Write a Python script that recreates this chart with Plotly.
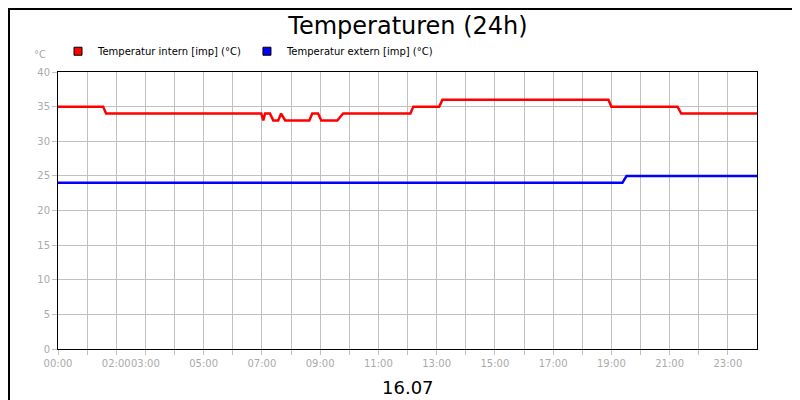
import plotly.graph_objects as go

# hours since 00:00
intern_x = [0, 1.55, 1.65, 6.98, 7.05, 7.11, 7.28, 7.39, 7.56, 7.66, 7.8, 8.63, 8.73, 8.93, 9.04, 9.59, 9.79,
            12.1, 12.2, 13.09, 13.2, 18.9, 19.0, 21.27, 21.4, 24]
intern_y = [35, 35, 34, 34, 33, 34, 34, 33, 33, 34, 33, 33, 34, 34, 33, 33, 34,
            34, 35, 35, 36, 36, 35, 35, 34, 34]
extern_x = [0, 19.38, 19.52, 24]
extern_y = [24, 24, 25, 25]

tick_hours = list(range(24))
labeled = [0, 2, 3, 5, 7, 9, 11, 13, 15, 17, 19, 21, 23]
tick_text = [f"{h:02d}:00" if h in labeled else "" for h in tick_hours]

fig = go.Figure()
fig.add_scatter(x=intern_x, y=intern_y, mode='lines', line=dict(color='#ff0000', width=2.5), showlegend=False)
fig.add_scatter(x=extern_x, y=extern_y, mode='lines', line=dict(color='#0000ff', width=2.5), showlegend=False)
for name, col in [('Temperatur intern [imp] (°C)', '#ff0000'), ('Temperatur extern [imp] (°C)', '#0000ff')]:
    fig.add_scatter(x=[None], y=[None], mode='markers', name=name,
                    marker=dict(symbol='square', size=8, color=col, line=dict(color='black', width=1)))

grey = '#aaaaaa'
fig.update_layout(
    width=800, height=400,
    margin=dict(l=50, r=51, t=64, b=59, autoexpand=False),
    paper_bgcolor='white', plot_bgcolor='white',
    font=dict(family='DejaVu Sans', size=10, color=grey),
    title=dict(text='Temperaturen (24h)', x=0.5, xanchor='center', y=0.955, yanchor='middle',
               font=dict(size=24, color='black')),
    legend=dict(orientation='h', x=0.0, xanchor='left', y=1.075, yanchor='middle',
                font=dict(size=10, color='black'), tracegroupgap=0, itemwidth=30,
                bgcolor='rgba(0,0,0,0)'),
    xaxis=dict(range=[0, 24], tickvals=tick_hours, ticktext=tick_text, tickangle=0, automargin=False,
               showgrid=True, gridcolor='#c0c0c0', ticks='outside', ticklen=5, tickcolor='#c0c0c0',
               showline=True, linecolor='black', mirror=True, zeroline=False),
    yaxis=dict(range=[0, 40], dtick=5, automargin=False, showgrid=True, gridcolor='#c0c0c0',
               ticks='outside', ticklen=5, tickcolor='#c0c0c0', showline=True, linecolor='black',
               mirror=True, zeroline=False),
    shapes=[dict(type='rect', xref='paper', yref='paper', x0=-0.0701, x1=1.0715, y0=-0.2094, y1=1.2274,
                 line=dict(color='black', width=2))],
    annotations=[
        dict(text='16.07', xref='paper', yref='paper', x=0.5, y=-0.14, yanchor='middle', showarrow=False,
             font=dict(size=18, color='black')),
        dict(text='°C', xref='paper', yref='paper', x=-0.015, y=1.035, xanchor='right', yanchor='bottom',
             showarrow=False, font=dict(size=10, color=grey)),
    ],
)
fig.write_html("out.html")
